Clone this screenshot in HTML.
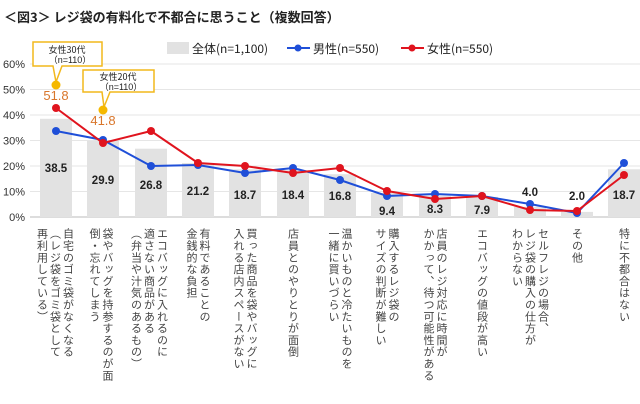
<!DOCTYPE html>
<html><head><meta charset="utf-8"><style>
html,body{margin:0;padding:0;background:#fff;}
body{width:640px;height:404px;position:relative;overflow:hidden;font-family:"Liberation Sans","Noto Sans CJK JP",sans-serif;}
.lab{position:absolute;top:228px;writing-mode:vertical-rl;font-size:11px;line-height:13px;letter-spacing:0.8px;color:#444;font-family:"Noto Sans CJK JP",sans-serif;white-space:nowrap;transform:translateX(-50%);}
</style></head><body>
<svg width="640" height="404" style="position:absolute;left:0;top:0" font-family="Liberation Sans, Noto Sans CJK JP, sans-serif">
<text x="4" y="22" font-size="13" font-weight="bold" fill="#222" font-family="Noto Sans CJK JP, sans-serif">＜図3＞ レジ袋の有料化で不都合に思うこと（複数回答）</text>
<g stroke="#e6e6e6" stroke-width="1">
<line x1="30" x2="640" y1="64" y2="64"/><line x1="30" x2="640" y1="89.5" y2="89.5"/><line x1="30" x2="640" y1="115" y2="115"/><line x1="30" x2="640" y1="140.5" y2="140.5"/><line x1="30" x2="640" y1="166" y2="166"/><line x1="30" x2="640" y1="191.5" y2="191.5"/>
</g>
<line x1="30" x2="640" y1="217" y2="217" stroke="#bbb"/>
<g font-size="11" fill="#333" text-anchor="end">
<text x="25" y="68">60%</text><text x="25" y="93.5">50%</text><text x="25" y="119">40%</text><text x="25" y="144.5">30%</text><text x="25" y="170">20%</text><text x="25" y="195.5">10%</text><text x="25" y="221">0%</text>
</g>
<g fill="#e2e2e2">
<rect x="40" y="118.8" width="32" height="98.2"/>
<rect x="87" y="140.8" width="32" height="76.2"/>
<rect x="135" y="148.7" width="32" height="68.3"/>
<rect x="182" y="163" width="32" height="54"/>
<rect x="229" y="169.3" width="32" height="47.7"/>
<rect x="277" y="170.1" width="32" height="46.9"/>
<rect x="324" y="174.2" width="32" height="42.8"/>
<rect x="371" y="193" width="32" height="24"/>
<rect x="419" y="195.8" width="32" height="21.2"/>
<rect x="466" y="196.9" width="32" height="20.1"/>
<rect x="514" y="206.8" width="32" height="10.2"/>
<rect x="561" y="211.9" width="32" height="5.1"/>
<rect x="608" y="169.3" width="32" height="47.7"/>
</g>
<g font-size="11.5" font-weight="bold" fill="#222" text-anchor="middle">
<text x="56" y="172">38.5</text><text x="103" y="184">29.9</text><text x="151" y="189">26.8</text><text x="198" y="195">21.2</text><text x="245" y="199">18.7</text><text x="293" y="199">18.4</text><text x="340" y="200">16.8</text><text x="387" y="215">9.4</text><text x="435" y="213">8.3</text><text x="482" y="214">7.9</text><text x="530" y="196">4.0</text><text x="577" y="200">2.0</text><text x="624" y="199">18.7</text>
</g>
<polyline fill="none" stroke="#1f4fd8" stroke-width="2" points="56,131 103,140 151,166 198,165 245,173 293,168 340,180 387,196 435,194 482,196 530,204 577,213 624,163"/>
<g fill="#1f4fd8"><circle cx="56" cy="131" r="4"/><circle cx="103" cy="140" r="4"/><circle cx="151" cy="166" r="4"/><circle cx="198" cy="165" r="4"/><circle cx="245" cy="173" r="4"/><circle cx="293" cy="168" r="4"/><circle cx="340" cy="180" r="4"/><circle cx="387" cy="196" r="4"/><circle cx="435" cy="194" r="4"/><circle cx="482" cy="196" r="4"/><circle cx="530" cy="204" r="4"/><circle cx="577" cy="213" r="4"/><circle cx="624" cy="163" r="4"/></g>
<polyline fill="none" stroke="#e0141e" stroke-width="2" points="56,108 103,143 151,131 198,163 245,166 293,173 340,168 387,191 435,199 482,196 530,210 577,211 624,175"/>
<g fill="#e0141e"><circle cx="56" cy="108" r="4"/><circle cx="103" cy="143" r="4"/><circle cx="151" cy="131" r="4"/><circle cx="198" cy="163" r="4"/><circle cx="245" cy="166" r="4"/><circle cx="293" cy="173" r="4"/><circle cx="340" cy="168" r="4"/><circle cx="387" cy="191" r="4"/><circle cx="435" cy="199" r="4"/><circle cx="482" cy="196" r="4"/><circle cx="530" cy="210" r="4"/><circle cx="577" cy="211" r="4"/><circle cx="624" cy="175" r="4"/></g>
<path d="M33,42 H102 V66 H62 L56,82 L53,66 H33 Z" fill="#fff" stroke="#f2b81c" stroke-width="1.5"/>
<text x="67" y="53" font-size="9" text-anchor="middle" fill="#222" font-family="Noto Sans CJK JP, sans-serif">女性30代</text>
<text x="70" y="63" font-size="9" text-anchor="middle" fill="#222">（n=110）</text>
<circle cx="56" cy="85" r="4.5" fill="#f5b800"/>
<text x="56" y="100" font-size="13" text-anchor="middle" fill="#d9762b">51.8</text>
<path d="M83,70 H154 V92 H110 L104,107 L102,92 H83 Z" fill="#fff" stroke="#f2b81c" stroke-width="1.5"/>
<text x="118" y="80" font-size="9" text-anchor="middle" fill="#222" font-family="Noto Sans CJK JP, sans-serif">女性20代</text>
<text x="121" y="90" font-size="9" text-anchor="middle" fill="#222">（n=110）</text>
<circle cx="103" cy="110" r="4.5" fill="#f5b800"/>
<text x="103" y="125" font-size="13" text-anchor="middle" fill="#d9762b">41.8</text>
<rect x="167" y="42" width="22" height="12" fill="#e2e2e2"/>
<text x="192" y="53" font-size="12" fill="#222" font-family="Noto Sans CJK JP, sans-serif">全体(n=1,100)</text>
<line x1="287" x2="310" y1="48" y2="48" stroke="#1f4fd8" stroke-width="2"/><circle cx="298" cy="48" r="3.5" fill="#1f4fd8"/>
<text x="313" y="53" font-size="12" fill="#222" font-family="Noto Sans CJK JP, sans-serif">男性(n=550)</text>
<line x1="401" x2="424" y1="48" y2="48" stroke="#e0141e" stroke-width="2"/><circle cx="412" cy="48" r="3.5" fill="#e0141e"/>
<text x="427" y="53" font-size="12" fill="#222" font-family="Noto Sans CJK JP, sans-serif">女性(n=550)</text>
</svg>
<div class="lab" style="left:55px">自宅のゴミ袋がなくなる<br>（レジ袋をゴミ袋として<br>再利用している）</div>
<div class="lab" style="left:101px">袋やバッグを持参するのが面<br>倒・忘れてしまう</div>
<div class="lab" style="left:149px">エコバッグに入れるのに<br>適さない商品がある<br>（弁当や汁気のあるもの）</div>
<div class="lab" style="left:198px">有料であることの<br>金銭的な負担</div>
<div class="lab" style="left:245px">買った商品を袋やバッグに<br>入れる店内スペースがない</div>
<div class="lab" style="left:293px">店員とのやりとりが面倒</div>
<div class="lab" style="left:340px">温かいものと冷たいものを<br>一緒に買いづらい</div>
<div class="lab" style="left:387px">購入するレジ袋の<br>サイズの判断が難しい</div>
<div class="lab" style="left:435px">店員のレジ対応に時間が<br>かかって、待つ可能性がある</div>
<div class="lab" style="left:482px">エコバッグの値段が高い</div>
<div class="lab" style="left:530px">セルフレジの場合、<br>レジ袋の購入の仕方が<br>わからない</div>
<div class="lab" style="left:577px">その他</div>
<div class="lab" style="left:624px">特に不都合はない</div>
</body></html>
